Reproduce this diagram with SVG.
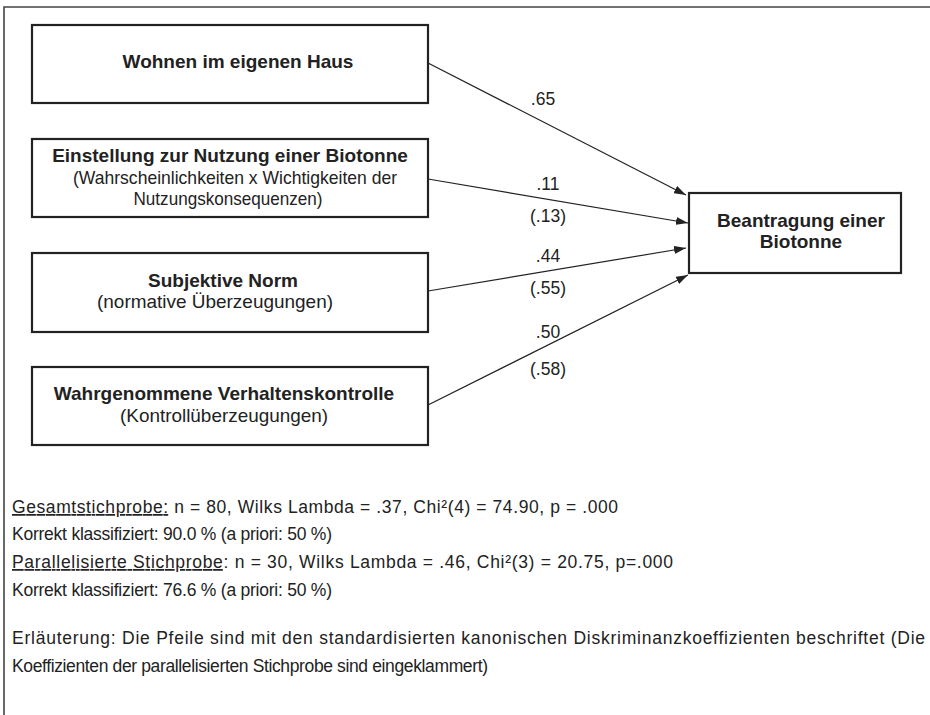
<svg xmlns="http://www.w3.org/2000/svg" width="930" height="715" viewBox="0 0 930 715">
<style>
  .box { fill: #fff; stroke: #222; stroke-width: 2.2; }
  .b { font-family: "Liberation Sans", Arial, sans-serif; font-weight: bold; font-size: 19px; fill: #222; text-anchor: middle; }
  .r { font-family: "Liberation Sans", Arial, sans-serif; font-size: 18.5px; fill: #222; text-anchor: middle; }
  .lbl { font-family: "Liberation Sans", Arial, sans-serif; font-size: 17.5px; fill: #222; text-anchor: middle; }
  .t { font-family: "Liberation Sans", Arial, sans-serif; font-size: 17.5px; fill: #222; }
  .edge { fill: none; stroke: #222; stroke-width: 1.2; marker-end: url(#arr); }
  .frame { fill: none; stroke: #444; stroke-width: 1.6; }
</style>
<defs>
  <marker id="arr" viewBox="0 0 12 8" refX="12" refY="4" markerWidth="12" markerHeight="8" markerUnits="userSpaceOnUse" orient="auto">
    <path d="M0,0 L12,4 L0,8 z" fill="#222"/>
  </marker>
</defs>
<rect width="930" height="715" fill="#fff"/>
<path class="frame" d="M4,715 L4,7 L930,7"/>

<g id="n1">
  <rect class="box" x="32" y="25" width="396" height="78"/>
  <text class="b" x="238" y="68">Wohnen im eigenen Haus</text>
</g>
<g id="n2">
  <rect class="box" x="32" y="139" width="396" height="78"/>
  <text class="b" x="230" y="162">Einstellung zur Nutzung einer Biotonne</text>
  <text class="r" x="235" y="184" textLength="324" lengthAdjust="spacingAndGlyphs">(Wahrscheinlichkeiten x Wichtigkeiten der</text>
  <text class="r" x="228" y="205" textLength="189" lengthAdjust="spacingAndGlyphs">Nutzungskonsequenzen)</text>
</g>
<g id="n3">
  <rect class="box" x="32" y="253" width="396" height="79"/>
  <text class="b" x="223" y="287">Subjektive Norm</text>
  <text class="r" x="215" y="308" textLength="236" lengthAdjust="spacingAndGlyphs">(normative Überzeugungen)</text>
</g>
<g id="n4">
  <rect class="box" x="32" y="367" width="396" height="78"/>
  <text class="b" x="224" y="400">Wahrgenommene Verhaltenskontrolle</text>
  <text class="r" x="224" y="422" textLength="208" lengthAdjust="spacingAndGlyphs">(Kontrollüberzeugungen)</text>
</g>
<g id="n5">
  <rect class="box" x="689" y="193" width="212" height="80"/>
  <text class="b" x="801" y="227">Beantragung einer</text>
  <text class="b" x="801" y="248">Biotonne</text>
</g>

<g id="edges">
  <path class="edge" d="M428,63 L686,195"/>
  <path class="edge" d="M428,179 L688,223"/>
  <path class="edge" d="M428,291 L686,248"/>
  <path class="edge" d="M428,405 L688,275"/>
  <text class="lbl" x="543" y="105">.65</text>
  <text class="lbl" x="548" y="190">.11</text>
  <text class="lbl" x="548" y="222">(.13)</text>
  <text class="lbl" x="548" y="262">.44</text>
  <text class="lbl" x="548" y="294">(.55)</text>
  <text class="lbl" x="548" y="338">.50</text>
  <text class="lbl" x="548" y="375">(.58)</text>
</g>

<g id="notes">
  <text class="t" x="12" y="513" textLength="606" lengthAdjust="spacing"><tspan text-decoration="underline">Gesamtstichprobe:</tspan> n = 80, Wilks Lambda = .37, Chi²(4) = 74.90, p = .000</text>
  <text class="t" x="12" y="540" textLength="320" lengthAdjust="spacing">Korrekt klassifiziert: 90.0 % (a priori: 50 %)</text>
  <text class="t" x="12" y="568" textLength="661" lengthAdjust="spacing"><tspan text-decoration="underline">Parallelisierte Stichprobe</tspan>: n = 30, Wilks Lambda = .46, Chi²(3) = 20.75, p=.000</text>
  <text class="t" x="12" y="596" textLength="320" lengthAdjust="spacing">Korrekt klassifiziert: 76.6 % (a priori: 50 %)</text>
  <text class="t" x="12" y="644" textLength="913" lengthAdjust="spacing">Erläuterung: Die Pfeile sind mit den standardisierten kanonischen Diskriminanzkoeffizienten beschriftet (Die</text>
  <text class="t" x="12" y="672" textLength="476" lengthAdjust="spacing">Koeffizienten der parallelisierten Stichprobe sind eingeklammert)</text>
</g>
</svg>
